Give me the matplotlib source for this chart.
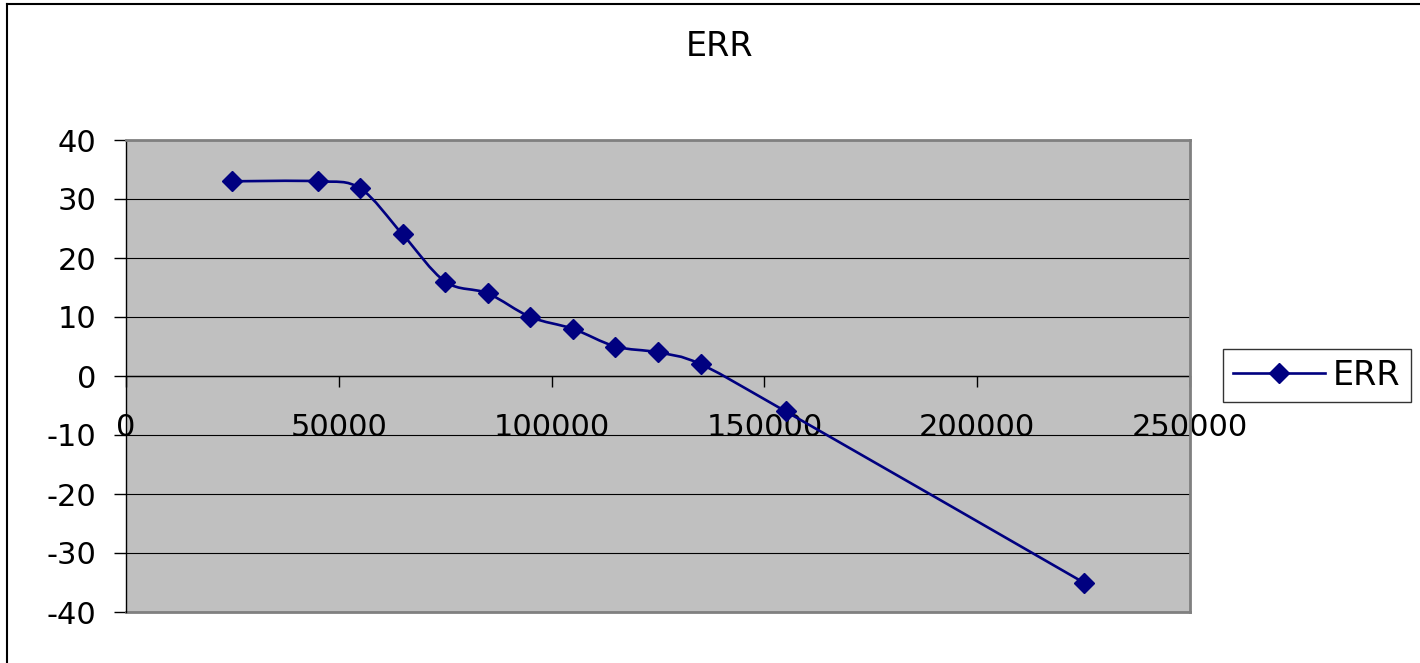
import matplotlib.pyplot as plt
from matplotlib.path import Path
from matplotlib.patches import PathPatch
from matplotlib.lines import Line2D
import numpy as np

plt.rcParams['font.family'] = ['DejaVu Sans']
plt.rcParams['axes.unicode_minus'] = False

x_vals = [25000, 45000, 55000, 65000, 75000, 85000, 95000, 105000,
          115000, 125000, 135000, 155000, 225000]
err_vals = [33, 33, 31.8, 24, 16, 14, 10, 8, 5, 4, 2, -6, -35]
x_ticks = [0, 50000, 100000, 150000, 200000, 250000]
y_ticks = [-40, -30, -20, -10, 0, 10, 20, 30, 40]

navy = "#000080"


def smooth_path(xs, ys):
    # excel style smoothed line: catmull-rom segments as cubic beziers
    pts = np.column_stack([xs, ys]).astype(float)
    verts = [pts[0]]
    codes = [Path.MOVETO]
    n = len(pts)
    for i in range(n - 1):
        p0 = pts[i - 1] if i > 0 else pts[i]
        p1 = pts[i]
        p2 = pts[i + 1]
        p3 = pts[i + 2] if i + 2 < n else pts[i + 1]
        c1 = p1 + (p2 - p0) / 6.0
        c2 = p2 - (p3 - p1) / 6.0
        verts += [c1, c2, p2]
        codes += [Path.CURVE4] * 3
    return Path(verts, codes)


fig = plt.figure(figsize=(14.2, 6.63), dpi=100)
ax = fig.add_axes([126 / 1420, 51 / 663, 1064 / 1420, 472 / 663])
ax.set_facecolor("#C0C0C0")

ax.add_patch(PathPatch(smooth_path(x_vals, err_vals), facecolor="none",
                       edgecolor=navy, lw=1.9, zorder=3))
ax.plot(x_vals, err_vals, ls="none", marker="D", ms=10, color=navy,
        zorder=4, clip_on=False)

ax.set_xlim(0, 250000)
ax.set_ylim(-40, 40)
ax.set_xticks(x_ticks)
ax.set_yticks(y_ticks)
ax.set_xticklabels([str(t) for t in x_ticks])
ax.grid(axis="y", color="black", lw=0.8)
ax.set_axisbelow(True)

for s in ["top", "right"]:
    ax.spines[s].set_color("#808080")
    ax.spines[s].set_linewidth(2)
ax.spines["left"].set_color("black")
ax.spines["left"].set_linewidth(1)
ax.spines["bottom"].set_position(("data", 0))
ax.spines["bottom"].set_color("black")
ax.spines["bottom"].set_linewidth(1)
ax.spines["bottom"].set_zorder(2)
# gray border along the bottom of plot area
ax.axhline(-40, color="#808080", lw=2, clip_on=False)

ax.tick_params(axis="y", direction="out", length=8.6, width=1,
               labelsize=22, pad=12.5)
ax.tick_params(axis="x", direction="out", length=8, width=1,
               labelsize=22, pad=19)

fig.text(720 / 1420, 1 - 46 / 663, "ERR", fontsize=24, ha="center",
         va="center")

handle = Line2D([], [], color=navy, lw=1.9, marker="D", ms=10)
leg = fig.legend([handle], ["ERR"], loc="center left",
                 bbox_to_anchor=(1223 / 1420, 1 - 375.5 / 663),
                 fontsize=24, frameon=True, fancybox=False,
                 handlelength=2.75, borderpad=0.3, handletextpad=0.25,
                 borderaxespad=0)
leg.get_frame().set_edgecolor("black")
leg.get_frame().set_linewidth(1)

# outer chart frame
fig.add_artist(Line2D([7 / 1420, 7 / 1420], [0, 1 - 4 / 663],
                      color="black", lw=1.5))
fig.add_artist(Line2D([7 / 1420, 1], [1 - 4 / 663, 1 - 4 / 663],
                      color="black", lw=1.5))

plt.savefig("out.png", dpi=100)
